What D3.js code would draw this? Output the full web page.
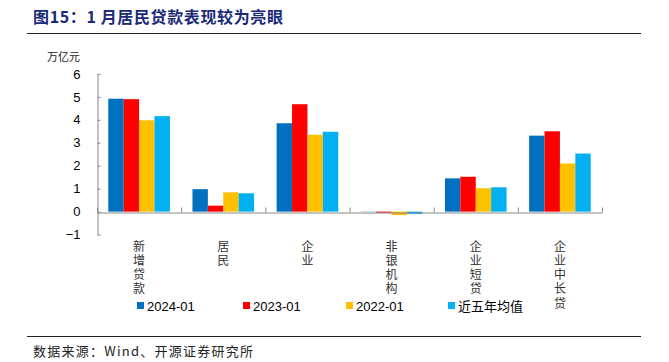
<!DOCTYPE html>
<html><head><meta charset="utf-8">
<script src="https://cdn.jsdelivr.net/npm/d3@7/dist/d3.min.js"></script>
<style>body{margin:0;background:#fff}</style>
</head><body>
<svg id="c" width="669" height="362"></svg>
<script>
const categories = ["新增贷款","居民","企业","非银机构","企业短贷","企业中长贷"];
const seriesNames = ["2024-01","2023-01","2022-01","近五年均值"];
const s2024 = [4.92, 0.98, 3.85, 0.01, 1.45, 3.31];
const s2023 = [4.90, 0.26, 4.68, -0.05, 1.52, 3.50];
const s2022 = [3.98, 0.84, 3.35, -0.15, 1.02, 2.10];
const sAvg  = [4.16, 0.80, 3.48, -0.10, 1.06, 2.53];
const yTicks = [-1,0,1,2,3,4,5,6];
const colors = ["#0070C0","#FF0000","#FFC000","#00B0F0"];

const seriesValues = [s2024, s2023, s2022, sAvg];
const svg = d3.select("#c");
const cjk = "'Noto Sans CJK SC', sans-serif";
const latin = "'Liberation Sans', Arial, sans-serif";

// title
svg.append("text").attr("x",33).attr("y",23)
  .attr("font-family",cjk).attr("font-weight","bold").attr("font-size",16)
  .attr("textLength",250).attr("lengthAdjust","spacing")
  .attr("fill","#1B2A78").text("图15：1 月居民贷款表现较为亮眼");
svg.append("line").attr("x1",27).attr("x2",641).attr("y1",33.5).attr("y2",33.5)
  .attr("stroke","#222").attr("stroke-width",1);
svg.append("line").attr("x1",27).attr("x2",641).attr("y1",336.5).attr("y2",336.5)
  .attr("stroke","#222").attr("stroke-width",1);
svg.append("text").attr("x",33).attr("y",356)
  .attr("font-family",cjk).attr("font-size",13).attr("fill","#222")
  .attr("textLength",220).attr("lengthAdjust","spacing")
  .text("数据来源：Wind、开源证券研究所");

// scales
const y = d3.scaleLinear().domain([-1,6]).range([234.6, 73.9]);
const x = d3.scaleBand().domain(categories).range([97, 602]).padding(0);
const xs = d3.scaleBand().domain(seriesNames).range([11.3, 72.9]).padding(0);

// unit
svg.append("text").attr("x",47).attr("y",61).attr("font-family",cjk)
  .attr("font-size",11).attr("fill","#222").text("万亿元");

// y axis
const ya = svg.append("g").attr("transform","translate(97.5,0)")
  .call(d3.axisLeft(y).tickValues(yTicks).tickFormat(d3.format("d"))
    .tickSizeInner(-3).tickSizeOuter(0).tickPadding(17));
ya.select(".domain").attr("stroke","#888");
ya.selectAll(".tick line").attr("stroke","#888");
ya.selectAll(".tick text").attr("font-family",latin).attr("font-size",13).attr("fill","#000");

// bars
const g = svg.append("g");
seriesValues.forEach((vals, si) => {
  g.selectAll(null).data(vals).enter().append("rect")
    .attr("x",(d,i)=>x(categories[i]) + xs(seriesNames[si]))
    .attr("width", xs.bandwidth())
    .attr("y", d => y(Math.max(0,d)))
    .attr("height", d => Math.abs(y(d)-y(0)))
    .attr("fill", colors[si]);
});

// zero line with category ticks
const bounds = d3.range(categories.length+1);
const xb = d3.scaleLinear().domain([0,categories.length]).range([97,602]);
const za = svg.append("g").attr("transform",`translate(0,${Math.round(y(0))+0.5})`)
  .call(d3.axisTop(xb).tickValues(bounds).tickFormat("").tickSizeInner(5).tickSizeOuter(0));
za.select(".domain").attr("stroke","#888");
za.selectAll(".tick line").attr("stroke","#888");

// category labels (vertical)
categories.forEach(c => {
  svg.append("text").attr("font-family",cjk).attr("font-size",12)
    .attr("fill","#333")
    .style("writing-mode","vertical-rl").style("text-orientation","upright")
    .attr("letter-spacing",2.3)
    .attr("x", x(c)+x.bandwidth()/2).attr("y", 240)
    .text(c);
});

// legend
const lx = [137, 243, 346, 448];
seriesNames.forEach((n, i) => {
  svg.append("rect").attr("x",lx[i]).attr("y",302).attr("width",7).attr("height",7).attr("fill",colors[i]);
  svg.append("text").attr("x",lx[i]+10).attr("y",311)
    .attr("font-family", i===3 ? cjk : latin).attr("font-size",13).attr("fill","#000").text(n);
});
</script>
</body></html>
